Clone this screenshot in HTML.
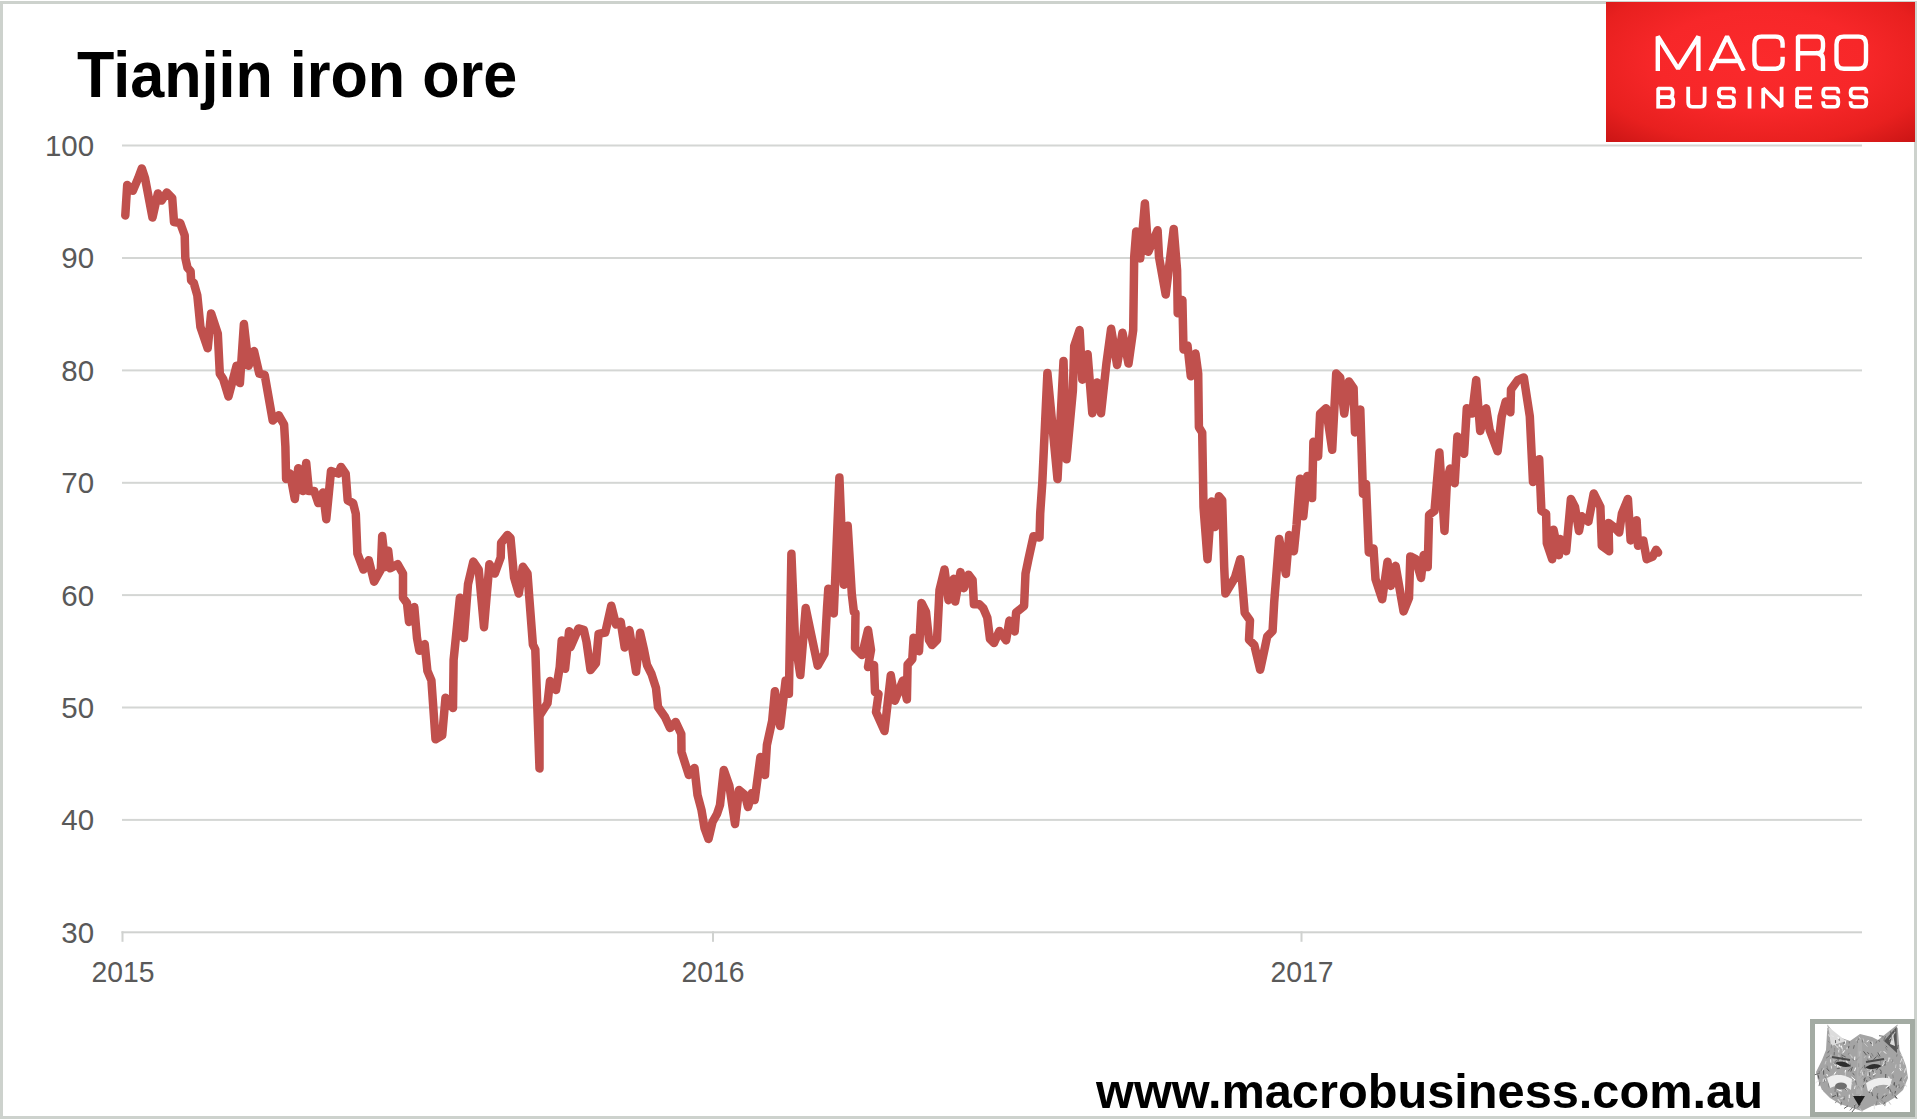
<!DOCTYPE html>
<html><head><meta charset="utf-8"><style>
html,body{margin:0;padding:0;background:#fff;}
body{width:1917px;height:1119px;position:relative;overflow:hidden;font-family:"Liberation Sans",sans-serif;}
.bd{position:absolute;background:#cdd2cd;}
svg{position:absolute;left:0;top:0;}
.title{position:absolute;left:76.8px;top:35.2px;font-weight:bold;font-size:64.4px;line-height:80px;color:#000;white-space:nowrap;transform:scaleX(0.949);transform-origin:0 0;}
.yl{position:absolute;left:1.2px;width:93px;text-align:right;font-size:29.5px;line-height:34px;color:#595959;transform:scaleX(1.0);transform-origin:93px 0;}
.xl{position:absolute;top:955.4px;width:100px;text-align:center;font-size:29.5px;line-height:34px;color:#595959;transform:scaleX(0.96);transform-origin:50px 0;}
.url{position:absolute;left:1096px;top:1060.7px;font-weight:bold;font-size:48.5px;line-height:60px;color:#000;white-space:nowrap;transform:scaleX(1.0045);transform-origin:0 0;}
.logo{position:absolute;left:1606px;top:2px;width:309px;height:139.5px;background:radial-gradient(ellipse 75% 80% at 50% 42%, #fb2a2c 0%, #f72729 45%, #e8201f 75%, #c81414 100%);}
.wolf{position:absolute;left:1810px;top:1019px;width:95px;height:88px;border:5px solid #a3aba3;background:#fff;}
</style></head><body>
<div class="bd" style="left:0;top:1px;width:3px;height:1118px"></div>
<div class="bd" style="left:1px;top:1px;width:1916px;height:3px"></div>
<div class="bd" style="left:1914px;top:1px;width:3px;height:1118px"></div>
<div class="bd" style="left:0;top:1116px;width:1917px;height:3px"></div>
<div class="logo"></div>
<svg width="1917" height="1119" viewBox="0 0 1917 1119"><rect x="122" y="144.5" width="1740" height="2" fill="#d4d6d4"/><rect x="122" y="257.0" width="1740" height="2" fill="#d4d6d4"/><rect x="122" y="369.4" width="1740" height="2" fill="#d4d6d4"/><rect x="122" y="481.8" width="1740" height="2" fill="#d4d6d4"/><rect x="122" y="594.1" width="1740" height="2" fill="#d4d6d4"/><rect x="122" y="706.5" width="1740" height="2" fill="#d4d6d4"/><rect x="122" y="818.9" width="1740" height="2" fill="#d4d6d4"/><rect x="121.5" y="931.3" width="1740.5" height="2" fill="#d0d2d0"/><rect x="121.5" y="931.3" width="2" height="10.5" fill="#d0d2d0"/><rect x="712.0" y="931.3" width="2" height="10.5" fill="#d0d2d0"/><rect x="1300.5" y="931.3" width="2" height="10.5" fill="#d0d2d0"/><polyline points="125.3,215.5 127.2,185.0 132.9,190.7 138.2,178.2 141.8,168.4 145.0,178.0 152.5,217.6 157.9,193.4 161.5,200.6 166.8,192.5 172.2,197.9 174.0,222.0 180.2,223.0 184.7,235.4 185.3,257.9 187.5,267.7 190.6,271.3 191.1,280.2 193.8,283.0 197.3,295.4 198.2,304.3 200.4,326.8 207.7,348.3 211.1,313.4 217.8,333.5 219.8,373.7 223.2,379.0 228.5,396.5 236.6,365.7 239.9,383.1 243.9,324.1 248.6,365.7 254.0,351.0 259.3,373.7 264.7,375.0 272.7,420.6 278.8,415.3 284.1,424.7 285.4,446.8 286.1,479.0 290.1,473.6 294.8,499.1 298.2,468.3 302.8,491.0 306.2,462.9 308.9,491.0 314.2,491.0 318.3,503.1 323.0,492.4 326.3,519.2 331.0,471.0 338.4,473.6 341.0,466.9 345.7,473.6 347.7,500.4 353.1,503.1 355.8,513.8 357.4,553.5 363.4,569.6 368.8,560.2 374.1,581.7 380.8,569.6 382.2,536.1 385.5,566.9 388.2,550.8 390.2,568.3 397.6,564.2 403.0,573.6 403.0,597.7 407.0,603.1 409.0,621.9 414.3,607.1 417.0,638.0 419.4,650.8 424.7,644.1 427.4,670.9 431.4,680.3 435.5,739.3 442.2,735.3 445.5,697.7 453.0,708.0 453.6,660.0 459.9,597.7 463.9,638.0 468.0,584.3 473.3,561.6 478.7,569.6 484.0,627.2 489.4,564.2 494.8,573.6 500.7,557.4 501.1,543.0 507.5,535.0 510.5,538.0 514.1,577.5 518.8,593.6 522.8,566.8 527.5,573.5 529.5,600.3 532.9,644.6 535.3,649.5 539.5,768.5 539.5,715.7 547.5,703.2 550.0,681.0 556.0,690.0 559.7,667.3 561.7,640.5 565.1,668.7 569.1,631.2 570.4,647.2 578.5,628.5 583.8,629.8 586.5,641.9 590.5,670.0 595.9,663.3 598.6,633.8 605.3,632.5 611.3,605.7 616.0,624.5 620.7,621.8 624.7,647.5 629.4,630.1 636.1,671.7 640.1,632.8 644.1,650.2 647.0,665.0 651.5,674.0 656.0,688.0 658.0,707.0 665.0,717.0 670.0,728.0 675.7,722.0 681.3,734.0 681.5,752.0 688.8,775.0 694.5,768.0 697.5,795.0 701.5,810.0 704.5,828.0 708.5,839.0 712.5,822.0 717.0,814.0 720.0,805.0 723.8,770.0 729.4,786.0 735.0,824.0 739.0,790.0 745.0,795.0 748.0,807.0 752.0,793.0 754.7,800.0 760.4,757.0 765.0,775.0 766.9,745.0 772.2,720.6 774.9,691.2 780.2,726.0 785.6,680.4 788.9,693.8 791.4,553.8 795.0,640.0 800.3,675.1 805.7,608.0 811.0,633.5 817.7,665.7 824.5,653.6 827.1,606.7 828.3,588.7 833.8,613.4 839.4,477.4 843.7,584.7 847.7,525.7 851.8,594.0 853.9,612.1 855.5,613.0 855.0,648.0 862.0,655.0 868.0,630.0 871.0,650.0 868.0,667.0 874.0,665.0 875.0,692.0 878.5,694.0 876.0,712.0 884.5,731.0 890.8,675.3 894.9,700.8 902.9,680.6 906.9,699.4 907.6,664.6 912.3,659.2 913.6,637.7 919.0,651.2 921.5,603.0 926.0,612.0 929.0,640.0 932.0,645.0 937.0,640.0 939.5,590.0 944.5,569.4 948.5,600.2 953.8,578.8 955.2,601.6 960.5,572.1 963.9,588.2 968.6,574.7 972.6,580.1 973.9,604.2 979.3,604.2 983.3,608.3 987.3,617.6 990.0,639.1 994.0,643.1 999.4,631.0 1006.1,640.4 1009.4,620.6 1014.7,631.4 1016.1,612.6 1024.1,605.9 1025.5,573.7 1028.2,560.3 1033.5,536.2 1039.5,537.5 1040.2,513.4 1042.3,482.6 1047.4,373.0 1057.5,479.0 1063.5,361.0 1066.5,459.3 1072.9,390.4 1074.2,346.2 1079.6,330.1 1082.3,379.7 1087.6,354.2 1092.3,413.2 1097.0,382.4 1101.0,413.2 1106.4,363.6 1111.1,328.8 1117.1,365.0 1122.5,332.8 1128.5,363.6 1133.2,330.1 1134.2,257.0 1136.2,231.6 1140.2,258.4 1144.9,203.4 1148.3,251.7 1157.6,230.2 1159.0,257.0 1165.7,294.6 1173.7,228.9 1177.1,270.4 1177.7,313.3 1182.4,299.9 1183.5,349.5 1187.5,345.5 1190.8,376.3 1195.5,353.5 1198.2,373.6 1198.9,427.2 1202.2,432.6 1203.5,506.9 1207.5,559.2 1211.5,501.6 1214.9,527.0 1218.9,496.2 1222.2,500.2 1224.2,567.2 1225.4,593.6 1235.0,577.5 1240.3,559.2 1244.7,612.9 1250.0,620.4 1249.0,639.7 1254.3,645.0 1260.2,669.7 1265.0,647.2 1267.2,636.5 1272.6,631.1 1274.2,602.2 1279.2,539.1 1285.9,573.9 1289.2,535.1 1293.9,551.2 1296.6,524.3 1300.0,478.8 1303.3,516.3 1307.3,476.1 1312.1,498.1 1313.4,441.8 1318.1,456.5 1320.1,413.6 1326.1,408.3 1332.2,449.8 1336.2,373.4 1340.2,377.4 1344.2,413.6 1348.9,381.4 1353.6,388.2 1355.0,432.4 1360.3,409.6 1363.0,494.0 1366.0,484.0 1368.8,552.4 1373.5,548.4 1375.5,579.2 1382.2,599.3 1387.5,561.8 1390.9,585.9 1395.6,565.8 1403.6,611.4 1409.0,598.0 1410.3,556.4 1415.7,559.1 1421.0,577.9 1423.7,555.1 1427.7,567.1 1429.1,514.9 1434.5,510.8 1439.4,452.5 1444.5,530.9 1447.0,480.0 1450.1,468.6 1454.7,483.3 1457.4,436.4 1464.1,453.8 1466.8,408.3 1472.2,413.6 1476.2,380.1 1480.2,431.0 1486.2,408.3 1489.6,429.7 1497.6,451.2 1501.7,416.3 1505.7,401.6 1510.4,412.3 1511.0,389.5 1517.7,380.1 1523.8,377.4 1529.8,416.3 1533.0,482.0 1539.2,459.2 1541.4,510.9 1546.1,513.6 1546.8,543.1 1552.2,559.2 1553.5,529.7 1558.9,555.2 1560.2,539.1 1566.2,551.2 1570.9,498.9 1575.0,506.9 1579.0,531.0 1581.7,516.3 1588.4,521.7 1593.7,493.5 1600.4,506.9 1601.8,545.8 1609.1,551.2 1608.5,523.0 1613.8,527.0 1619.2,532.4 1621.9,513.6 1627.9,498.9 1630.6,540.4 1636.6,520.3 1638.0,545.8 1643.3,540.4 1646.7,559.2 1652.7,556.5 1656.1,549.8 1658.1,552.5" fill="none" stroke="#c0504d" stroke-width="8.5" stroke-linejoin="round" stroke-linecap="round"/><defs><clipPath id="c1"><rect x="1600" y="34.2" width="300" height="36.7"/></clipPath><clipPath id="c2"><rect x="1600" y="86.4" width="300" height="22.4"/></clipPath></defs><g clip-path="url(#c1)" fill="none" stroke="#fff" stroke-width="4.4" stroke-linejoin="miter" stroke-miterlimit="1.3" stroke-linecap="square"><path d="M1657.80,68.70 L1657.80,36.50 L1678.10,68.70 L1698.40,36.50 L1698.40,68.70"/><path d="M1711.30,68.70 L1727.05,36.50 L1742.80,68.70 M1715.08,60.97 L1739.02,60.97"/><path d="M1782.60,45.52 L1782.60,43.58 Q1782.60,36.50 1775.55,36.50 L1761.45,36.50 Q1754.40,36.50 1754.40,44.55 L1754.40,60.65 Q1754.40,68.70 1761.45,68.70 L1775.55,68.70 Q1782.60,68.70 1782.60,61.62 L1782.60,59.04"/><path d="M1798.00,68.70 L1798.00,36.50 L1817.50,36.50 Q1823.00,36.50 1823.00,42.94 L1823.00,46.80 Q1823.00,53.24 1817.50,53.24 L1798.00,53.24 M1818.00,53.24 Q1823.00,53.89 1823.00,59.68 L1823.00,68.70"/><path d="M1843.88,36.50 L1858.62,36.50 Q1866.00,36.50 1866.00,44.55 L1866.00,60.65 Q1866.00,68.70 1858.62,68.70 L1843.88,68.70 Q1836.50,68.70 1836.50,60.65 L1836.50,44.55 Q1836.50,36.50 1843.88,36.50 Z"/></g><g clip-path="url(#c2)" fill="none" stroke="#fff" stroke-width="3.8" stroke-linejoin="miter" stroke-miterlimit="1.3" stroke-linecap="square"><path d="M1658.20,106.80 L1658.20,88.40 L1669.37,88.40 Q1672.55,88.40 1672.55,92.08 L1672.55,93.37 Q1672.55,97.05 1669.37,97.05 L1658.20,97.05 M1669.37,97.05 Q1673.30,97.05 1673.30,101.28 L1673.30,102.75 Q1673.30,106.80 1669.98,106.80 L1658.20,106.80"/><path d="M1688.20,88.40 L1688.20,102.20 Q1688.20,106.80 1692.30,106.80 L1700.50,106.80 Q1704.60,106.80 1704.60,102.20 L1704.60,88.40"/><path d="M1734.00,91.71 Q1734.00,88.40 1730.68,88.40 L1722.22,88.40 Q1718.90,88.40 1718.90,92.45 L1718.90,93.37 Q1718.90,97.23 1722.22,97.23 L1730.68,97.23 Q1734.00,97.23 1734.00,101.65 L1734.00,102.75 Q1734.00,106.80 1730.68,106.80 L1722.22,106.80 Q1718.90,106.80 1718.90,103.12"/><path d="M1749.55,88.40 L1749.55,106.80"/><path d="M1763.20,106.80 L1763.20,88.40 L1781.60,106.80 L1781.60,88.40"/><path d="M1810.20,88.40 L1797.10,88.40 L1797.10,106.80 L1810.20,106.80 M1797.10,97.23 L1809.15,97.23"/><path d="M1838.30,91.71 Q1838.30,88.40 1834.98,88.40 L1826.52,88.40 Q1823.20,88.40 1823.20,92.45 L1823.20,93.37 Q1823.20,97.23 1826.52,97.23 L1834.98,97.23 Q1838.30,97.23 1838.30,101.65 L1838.30,102.75 Q1838.30,106.80 1834.98,106.80 L1826.52,106.80 Q1823.20,106.80 1823.20,103.12"/><path d="M1866.30,91.71 Q1866.30,88.40 1862.85,88.40 L1854.05,88.40 Q1850.60,88.40 1850.60,92.45 L1850.60,93.37 Q1850.60,97.23 1854.05,97.23 L1862.85,97.23 Q1866.30,97.23 1866.30,101.65 L1866.30,102.75 Q1866.30,106.80 1862.85,106.80 L1854.05,106.80 Q1850.60,106.80 1850.60,103.12"/></g></svg>
<div class="title" id="title">Tianjin iron ore</div>
<div class="yl" style="top:128.98px">100</div><div class="yl" style="top:241.48px">90</div><div class="yl" style="top:353.88px">80</div><div class="yl" style="top:466.28px">70</div><div class="yl" style="top:578.58px">60</div><div class="yl" style="top:690.98px">50</div><div class="yl" style="top:803.38px">40</div><div class="yl" style="top:915.78px">30</div>
<div class="xl" style="left:72.8px">2015</div><div class="xl" style="left:663.4px">2016</div><div class="xl" style="left:1251.9px">2017</div>
<div class="url" id="url">www.macrobusiness.com.au</div>
<div class="wolf"></div>
<svg width="1917" height="1119" viewBox="0 0 1917 1119" style="position:absolute;left:0;top:0"><path d="M1827.5,1024.5 L1836,1036 L1850,1041 L1860,1034 L1872,1037 L1878,1040 L1897.5,1024.5 L1899.5,1050 L1903,1058 L1906,1066 L1908,1078 L1903,1090 L1894,1098 L1884,1104 L1872,1106 L1862,1111 L1852,1108 L1840,1104 L1830,1098 L1822,1090 L1818,1080 L1816,1072 L1822,1060 L1826,1050 Z" fill="#a4a4a4"/><path d="M1828.5,1027 L1831,1046 L1846,1041 Z" fill="#dcdcdc"/><path d="M1896.5,1027 L1884,1041 L1897,1053 Z" fill="#555"/><path d="M1893,1033 L1895,1046 L1890,1044 Z" fill="#ddd"/><g stroke-width="1" fill="none"><path d="M1865.4,1056.2 L1864.1,1057.8" stroke="#c8c8c8"/><path d="M1854.3,1045.2 L1853.4,1048.7" stroke="#6a6a6a"/><path d="M1892.7,1034.9 L1892.0,1039.7" stroke="#e6e6e6"/><path d="M1835.8,1073.0 L1834.0,1074.6" stroke="#c8c8c8"/><path d="M1828.6,1034.4 L1829.5,1036.7" stroke="#e6e6e6"/><path d="M1868.7,1040.5 L1866.7,1041.7" stroke="#ffffff"/><path d="M1834.4,1083.9 L1836.1,1087.2" stroke="#c8c8c8"/><path d="M1849.0,1045.9 L1848.4,1048.3" stroke="#5a5a5a"/><path d="M1837.9,1074.5 L1841.9,1076.0" stroke="#8a8a8a"/><path d="M1863.1,1038.5 L1863.7,1041.5" stroke="#c8c8c8"/><path d="M1854.6,1108.7 L1851.9,1112.1" stroke="#5a5a5a"/><path d="M1844.5,1085.2 L1843.2,1088.7" stroke="#e6e6e6"/><path d="M1883.7,1051.2 L1886.1,1053.6" stroke="#ffffff"/><path d="M1851.3,1082.8 L1852.1,1084.7" stroke="#c8c8c8"/><path d="M1848.4,1077.8 L1849.6,1080.4" stroke="#ffffff"/><path d="M1838.3,1058.4 L1838.2,1063.0" stroke="#6a6a6a"/><path d="M1830.6,1059.3 L1830.8,1062.6" stroke="#e6e6e6"/><path d="M1841.2,1060.5 L1840.2,1063.5" stroke="#c8c8c8"/><path d="M1831.6,1044.4 L1831.3,1048.2" stroke="#8a8a8a"/><path d="M1865.3,1077.7 L1863.4,1079.9" stroke="#7c7c7c"/><path d="M1879.9,1069.4 L1881.2,1071.1" stroke="#5a5a5a"/><path d="M1888.3,1101.0 L1890.8,1104.6" stroke="#c8c8c8"/><path d="M1852.4,1058.7 L1853.9,1060.8" stroke="#7c7c7c"/><path d="M1868.3,1071.2 L1867.9,1076.1" stroke="#e6e6e6"/><path d="M1838.7,1054.6 L1839.6,1059.0" stroke="#c8c8c8"/><path d="M1860.2,1051.4 L1859.6,1053.8" stroke="#ffffff"/><path d="M1847.2,1047.3 L1846.9,1049.3" stroke="#e6e6e6"/><path d="M1849.0,1084.7 L1850.5,1089.2" stroke="#5a5a5a"/><path d="M1896.2,1085.3 L1896.3,1087.8" stroke="#5a5a5a"/><path d="M1835.9,1071.7 L1834.0,1074.6" stroke="#ffffff"/><path d="M1836.0,1095.4 L1831.9,1097.1" stroke="#5a5a5a"/><path d="M1852.7,1094.7 L1853.0,1097.3" stroke="#c8c8c8"/><path d="M1839.4,1084.9 L1836.5,1088.8" stroke="#8a8a8a"/><path d="M1835.7,1044.0 L1836.2,1046.5" stroke="#7c7c7c"/><path d="M1900.5,1054.3 L1902.0,1056.1" stroke="#c8c8c8"/><path d="M1888.5,1090.0 L1891.2,1092.2" stroke="#7c7c7c"/><path d="M1855.8,1080.0 L1851.8,1081.3" stroke="#c8c8c8"/><path d="M1852.7,1107.3 L1849.9,1110.4" stroke="#7c7c7c"/><path d="M1870.5,1065.0 L1872.2,1068.3" stroke="#c8c8c8"/><path d="M1876.8,1054.8 L1879.1,1057.7" stroke="#7c7c7c"/><path d="M1885.5,1036.3 L1883.7,1040.5" stroke="#6a6a6a"/><path d="M1838.7,1049.8 L1838.8,1052.5" stroke="#e6e6e6"/><path d="M1845.6,1071.9 L1845.2,1076.1" stroke="#c8c8c8"/><path d="M1877.3,1095.7 L1877.9,1099.2" stroke="#5a5a5a"/><path d="M1901.3,1068.1 L1902.6,1069.7" stroke="#c8c8c8"/><path d="M1888.0,1077.6 L1888.6,1081.8" stroke="#7c7c7c"/><path d="M1831.2,1065.7 L1831.6,1068.6" stroke="#e6e6e6"/><path d="M1864.9,1066.5 L1867.9,1069.6" stroke="#e6e6e6"/><path d="M1872.0,1041.5 L1872.5,1045.9" stroke="#e6e6e6"/><path d="M1903.5,1085.5 L1900.5,1089.1" stroke="#8a8a8a"/><path d="M1834.0,1063.4 L1835.5,1065.9" stroke="#ffffff"/><path d="M1877.9,1093.0 L1876.5,1097.5" stroke="#7c7c7c"/><path d="M1903.3,1080.6 L1904.0,1082.9" stroke="#c8c8c8"/><path d="M1852.4,1066.9 L1850.8,1071.6" stroke="#5a5a5a"/><path d="M1836.0,1086.2 L1834.2,1088.8" stroke="#8a8a8a"/><path d="M1844.9,1087.5 L1845.0,1089.6" stroke="#e6e6e6"/><path d="M1858.1,1085.9 L1859.6,1088.4" stroke="#6a6a6a"/><path d="M1836.5,1101.1 L1835.4,1103.1" stroke="#8a8a8a"/><path d="M1854.7,1104.2 L1854.2,1106.6" stroke="#e6e6e6"/><path d="M1868.6,1085.6 L1869.6,1087.7" stroke="#6a6a6a"/><path d="M1890.2,1040.1 L1889.4,1042.0" stroke="#6a6a6a"/><path d="M1890.4,1031.4 L1891.7,1035.7" stroke="#6a6a6a"/><path d="M1854.3,1104.6 L1854.8,1108.7" stroke="#6a6a6a"/><path d="M1874.1,1070.7 L1874.4,1073.3" stroke="#c8c8c8"/><path d="M1862.0,1039.7 L1862.2,1042.4" stroke="#6a6a6a"/><path d="M1838.1,1063.3 L1837.7,1067.3" stroke="#ffffff"/><path d="M1855.6,1067.6 L1854.6,1070.9" stroke="#ffffff"/><path d="M1835.2,1044.2 L1836.5,1046.5" stroke="#ffffff"/><path d="M1883.5,1036.3 L1879.0,1035.7" stroke="#6a6a6a"/><path d="M1839.0,1038.4 L1839.3,1040.6" stroke="#5a5a5a"/><path d="M1850.8,1068.5 L1847.9,1071.4" stroke="#6a6a6a"/><path d="M1858.2,1037.9 L1858.7,1041.2" stroke="#8a8a8a"/><path d="M1849.2,1052.9 L1848.2,1054.8" stroke="#8a8a8a"/><path d="M1835.5,1040.1 L1835.6,1043.1" stroke="#6a6a6a"/><path d="M1859.6,1068.2 L1859.2,1070.2" stroke="#8a8a8a"/><path d="M1891.8,1036.7 L1889.4,1039.6" stroke="#c8c8c8"/><path d="M1836.9,1075.5 L1840.2,1077.7" stroke="#ffffff"/><path d="M1888.7,1076.5 L1889.5,1080.7" stroke="#ffffff"/><path d="M1883.1,1080.6 L1878.9,1082.7" stroke="#ffffff"/><path d="M1855.3,1085.7 L1854.3,1089.0" stroke="#e6e6e6"/><path d="M1885.8,1074.0 L1885.6,1078.1" stroke="#5a5a5a"/><path d="M1898.9,1084.1 L1899.3,1088.2" stroke="#7c7c7c"/><path d="M1850.4,1063.7 L1850.0,1067.3" stroke="#7c7c7c"/><path d="M1890.0,1089.8 L1889.9,1093.4" stroke="#e6e6e6"/><path d="M1823.6,1070.3 L1823.7,1074.7" stroke="#5a5a5a"/><path d="M1840.0,1088.2 L1841.6,1090.2" stroke="#ffffff"/><path d="M1876.1,1064.5 L1875.5,1069.2" stroke="#8a8a8a"/><path d="M1887.1,1078.3 L1887.9,1082.1" stroke="#6a6a6a"/><path d="M1871.4,1053.2 L1873.3,1056.5" stroke="#7c7c7c"/><path d="M1840.3,1083.1 L1843.0,1086.1" stroke="#ffffff"/><path d="M1861.0,1086.4 L1861.7,1090.6" stroke="#e6e6e6"/><path d="M1858.1,1096.2 L1855.2,1100.0" stroke="#c8c8c8"/><path d="M1885.3,1047.0 L1887.2,1050.4" stroke="#8a8a8a"/><path d="M1898.4,1085.9 L1896.8,1088.1" stroke="#c8c8c8"/><path d="M1904.3,1084.0 L1906.6,1086.2" stroke="#c8c8c8"/><path d="M1844.7,1097.9 L1843.7,1099.7" stroke="#5a5a5a"/><path d="M1846.8,1059.0 L1846.1,1060.9" stroke="#ffffff"/><path d="M1842.2,1056.8 L1842.7,1059.9" stroke="#5a5a5a"/><path d="M1870.4,1055.7 L1871.3,1057.7" stroke="#6a6a6a"/><path d="M1819.9,1082.3 L1819.0,1086.1" stroke="#7c7c7c"/><path d="M1838.4,1047.4 L1839.6,1050.3" stroke="#c8c8c8"/><path d="M1874.3,1104.4 L1874.4,1109.2" stroke="#e6e6e6"/><path d="M1902.7,1060.2 L1903.9,1064.6" stroke="#c8c8c8"/><path d="M1827.0,1065.6 L1827.6,1068.5" stroke="#8a8a8a"/><path d="M1839.0,1089.0 L1840.0,1091.6" stroke="#c8c8c8"/><path d="M1867.4,1058.7 L1868.6,1060.9" stroke="#7c7c7c"/><path d="M1822.1,1068.1 L1821.1,1071.3" stroke="#8a8a8a"/><path d="M1828.1,1040.9 L1829.6,1042.7" stroke="#8a8a8a"/><path d="M1867.3,1052.1 L1869.0,1054.0" stroke="#6a6a6a"/><path d="M1885.5,1060.3 L1883.1,1062.6" stroke="#e6e6e6"/><path d="M1834.7,1047.8 L1834.7,1051.5" stroke="#8a8a8a"/><path d="M1826.8,1068.3 L1829.4,1071.3" stroke="#5a5a5a"/><path d="M1894.8,1032.1 L1893.0,1035.7" stroke="#c8c8c8"/><path d="M1897.1,1025.9 L1897.8,1027.9" stroke="#ffffff"/><path d="M1886.8,1094.8 L1885.4,1096.5" stroke="#5a5a5a"/><path d="M1864.6,1065.2 L1865.1,1068.5" stroke="#5a5a5a"/><path d="M1864.1,1084.0 L1861.0,1086.5" stroke="#5a5a5a"/><path d="M1826.8,1074.1 L1827.5,1076.1" stroke="#ffffff"/><path d="M1838.7,1080.0 L1838.9,1082.2" stroke="#e6e6e6"/><path d="M1839.5,1093.6 L1840.1,1095.5" stroke="#e6e6e6"/><path d="M1843.3,1064.5 L1839.9,1067.7" stroke="#c8c8c8"/><path d="M1864.5,1072.1 L1864.9,1074.2" stroke="#c8c8c8"/><path d="M1881.2,1051.1 L1878.7,1054.1" stroke="#c8c8c8"/><path d="M1854.9,1056.6 L1854.6,1060.0" stroke="#ffffff"/><path d="M1846.8,1061.0 L1847.5,1065.3" stroke="#ffffff"/><path d="M1894.4,1029.9 L1895.7,1033.2" stroke="#7c7c7c"/><path d="M1844.3,1096.2 L1844.1,1100.4" stroke="#8a8a8a"/><path d="M1825.2,1078.9 L1823.7,1082.4" stroke="#7c7c7c"/><path d="M1860.6,1104.1 L1857.3,1107.6" stroke="#6a6a6a"/><path d="M1828.3,1028.6 L1827.7,1030.7" stroke="#c8c8c8"/><path d="M1857.3,1086.7 L1857.5,1088.9" stroke="#7c7c7c"/><path d="M1845.9,1040.3 L1844.7,1045.0" stroke="#ffffff"/><path d="M1859.0,1051.4 L1859.8,1056.3" stroke="#c8c8c8"/><path d="M1841.3,1054.9 L1845.7,1057.0" stroke="#6a6a6a"/><path d="M1867.7,1090.8 L1869.7,1092.9" stroke="#5a5a5a"/><path d="M1859.5,1056.8 L1856.4,1060.4" stroke="#7c7c7c"/><path d="M1845.4,1088.9 L1847.4,1090.7" stroke="#ffffff"/><path d="M1885.2,1103.1 L1884.8,1106.1" stroke="#8a8a8a"/><path d="M1843.0,1087.5 L1846.7,1090.5" stroke="#6a6a6a"/><path d="M1859.7,1108.2 L1862.5,1112.2" stroke="#c8c8c8"/><path d="M1891.6,1035.7 L1892.0,1040.5" stroke="#8a8a8a"/><path d="M1892.3,1092.0 L1892.3,1095.8" stroke="#8a8a8a"/><path d="M1896.0,1064.5 L1895.4,1068.0" stroke="#c8c8c8"/><path d="M1885.8,1045.8 L1887.3,1047.3" stroke="#6a6a6a"/><path d="M1860.3,1071.9 L1859.5,1074.1" stroke="#6a6a6a"/><path d="M1824.1,1067.9 L1822.0,1071.4" stroke="#c8c8c8"/><path d="M1831.3,1035.7 L1833.8,1036.6" stroke="#e6e6e6"/><path d="M1894.6,1082.5 L1893.9,1084.7" stroke="#5a5a5a"/><path d="M1842.6,1048.6 L1842.8,1051.4" stroke="#c8c8c8"/><path d="M1838.3,1045.6 L1837.2,1047.8" stroke="#e6e6e6"/><path d="M1838.7,1045.6 L1840.4,1047.2" stroke="#c8c8c8"/><path d="M1859.6,1096.1 L1860.3,1100.6" stroke="#8a8a8a"/><path d="M1906.5,1075.3 L1904.2,1079.3" stroke="#c8c8c8"/><path d="M1871.7,1092.2 L1872.7,1096.1" stroke="#6a6a6a"/><path d="M1824.9,1076.5 L1825.9,1079.4" stroke="#7c7c7c"/><path d="M1892.0,1060.0 L1892.9,1063.0" stroke="#e6e6e6"/><path d="M1844.3,1041.9 L1843.9,1044.0" stroke="#6a6a6a"/><path d="M1889.8,1082.4 L1891.4,1084.3" stroke="#e6e6e6"/><path d="M1880.4,1060.1 L1880.9,1064.9" stroke="#8a8a8a"/><path d="M1885.1,1101.8 L1883.5,1104.6" stroke="#6a6a6a"/><path d="M1849.2,1041.4 L1849.3,1043.4" stroke="#7c7c7c"/><path d="M1854.8,1096.2 L1856.1,1099.2" stroke="#8a8a8a"/><path d="M1858.3,1038.3 L1855.6,1041.2" stroke="#c8c8c8"/><path d="M1823.4,1078.8 L1823.1,1081.9" stroke="#e6e6e6"/><path d="M1831.1,1054.6 L1830.7,1056.8" stroke="#c8c8c8"/><path d="M1861.1,1094.8 L1859.6,1099.5" stroke="#7c7c7c"/><path d="M1843.4,1097.7 L1840.5,1098.5" stroke="#e6e6e6"/><path d="M1902.1,1058.1 L1900.4,1062.5" stroke="#e6e6e6"/><path d="M1879.7,1102.4 L1882.3,1105.2" stroke="#e6e6e6"/><path d="M1894.6,1097.0 L1896.6,1098.5" stroke="#7c7c7c"/><path d="M1829.7,1055.6 L1826.1,1058.2" stroke="#7c7c7c"/><path d="M1818.9,1073.5 L1814.8,1074.7" stroke="#6a6a6a"/><path d="M1877.8,1052.5 L1880.0,1056.5" stroke="#5a5a5a"/><path d="M1843.8,1061.0 L1842.2,1064.4" stroke="#c8c8c8"/><path d="M1851.6,1056.3 L1852.3,1058.2" stroke="#c8c8c8"/><path d="M1858.7,1063.3 L1858.8,1067.2" stroke="#5a5a5a"/><path d="M1858.1,1039.8 L1858.7,1042.1" stroke="#c8c8c8"/><path d="M1849.3,1094.6 L1849.2,1098.1" stroke="#ffffff"/><path d="M1818.8,1080.0 L1815.6,1082.9" stroke="#e6e6e6"/><path d="M1822.5,1090.2 L1820.3,1094.3" stroke="#ffffff"/><path d="M1883.8,1095.7 L1881.9,1098.6" stroke="#5a5a5a"/><path d="M1886.1,1038.0 L1881.4,1037.9" stroke="#8a8a8a"/><path d="M1900.1,1064.2 L1900.2,1067.6" stroke="#e6e6e6"/><path d="M1839.7,1068.5 L1836.8,1068.6" stroke="#6a6a6a"/><path d="M1833.7,1059.5 L1834.6,1062.3" stroke="#c8c8c8"/><path d="M1830.9,1093.1 L1831.7,1095.3" stroke="#e6e6e6"/><path d="M1864.0,1084.6 L1862.7,1088.0" stroke="#5a5a5a"/><path d="M1852.1,1094.2 L1852.8,1096.9" stroke="#8a8a8a"/><path d="M1869.3,1055.7 L1869.1,1058.2" stroke="#ffffff"/><path d="M1863.5,1051.3 L1866.5,1055.2" stroke="#5a5a5a"/><path d="M1870.1,1082.4 L1870.1,1084.5" stroke="#7c7c7c"/><path d="M1842.4,1079.1 L1842.2,1082.3" stroke="#8a8a8a"/><path d="M1836.4,1081.5 L1836.2,1084.5" stroke="#6a6a6a"/><path d="M1864.2,1071.0 L1864.2,1074.2" stroke="#8a8a8a"/><path d="M1870.4,1042.0 L1871.5,1044.1" stroke="#5a5a5a"/><path d="M1837.9,1037.1 L1839.0,1039.2" stroke="#ffffff"/><path d="M1828.6,1082.6 L1829.3,1087.4" stroke="#6a6a6a"/><path d="M1875.6,1073.5 L1872.9,1074.9" stroke="#ffffff"/><path d="M1869.4,1077.0 L1871.0,1078.9" stroke="#6a6a6a"/><path d="M1819.1,1070.8 L1819.4,1074.0" stroke="#7c7c7c"/><path d="M1824.9,1077.9 L1825.6,1081.1" stroke="#e6e6e6"/><path d="M1872.2,1068.6 L1873.4,1072.3" stroke="#5a5a5a"/><path d="M1872.6,1068.8 L1869.2,1072.3" stroke="#ffffff"/><path d="M1888.6,1087.0 L1887.9,1088.9" stroke="#5a5a5a"/><path d="M1856.0,1104.3 L1854.3,1106.1" stroke="#6a6a6a"/><path d="M1839.6,1080.7 L1838.6,1082.8" stroke="#ffffff"/><path d="M1874.8,1083.8 L1877.2,1088.0" stroke="#8a8a8a"/><path d="M1837.2,1089.5 L1841.8,1091.1" stroke="#ffffff"/><path d="M1851.5,1076.9 L1855.1,1080.0" stroke="#ffffff"/><path d="M1894.1,1071.2 L1891.6,1073.6" stroke="#e6e6e6"/><path d="M1880.6,1099.5 L1883.5,1101.8" stroke="#8a8a8a"/><path d="M1889.2,1058.5 L1887.8,1062.0" stroke="#e6e6e6"/><path d="M1828.3,1026.5 L1825.3,1029.0" stroke="#ffffff"/><path d="M1895.5,1091.0 L1894.9,1093.6" stroke="#5a5a5a"/><path d="M1865.2,1082.4 L1862.4,1085.5" stroke="#c8c8c8"/><path d="M1894.7,1095.5 L1897.2,1098.5" stroke="#5a5a5a"/><path d="M1885.6,1079.6 L1887.0,1083.8" stroke="#ffffff"/><path d="M1834.3,1052.1 L1834.1,1055.4" stroke="#6a6a6a"/><path d="M1848.0,1105.8 L1844.1,1108.5" stroke="#5a5a5a"/><path d="M1905.6,1068.3 L1904.3,1072.7" stroke="#e6e6e6"/><path d="M1885.1,1093.4 L1883.6,1095.2" stroke="#c8c8c8"/><path d="M1881.2,1071.3 L1880.9,1074.0" stroke="#5a5a5a"/><path d="M1892.8,1074.6 L1893.3,1078.1" stroke="#8a8a8a"/><path d="M1861.2,1094.1 L1859.7,1096.2" stroke="#c8c8c8"/><path d="M1863.4,1074.9 L1860.7,1078.8" stroke="#7c7c7c"/><path d="M1889.1,1085.3 L1885.6,1088.0" stroke="#ffffff"/><path d="M1885.1,1061.1 L1886.1,1063.9" stroke="#c8c8c8"/><path d="M1899.7,1068.1 L1901.1,1070.9" stroke="#ffffff"/><path d="M1837.0,1064.6 L1840.5,1066.9" stroke="#ffffff"/><path d="M1818.2,1075.2 L1818.9,1078.7" stroke="#5a5a5a"/><path d="M1894.3,1082.3 L1894.3,1085.6" stroke="#5a5a5a"/><path d="M1839.2,1044.3 L1840.3,1047.1" stroke="#ffffff"/><path d="M1898.2,1044.9 L1897.5,1049.0" stroke="#5a5a5a"/><path d="M1873.0,1087.7 L1870.8,1092.0" stroke="#ffffff"/><path d="M1845.7,1070.0 L1845.0,1072.4" stroke="#ffffff"/><path d="M1876.8,1041.2 L1875.8,1043.4" stroke="#7c7c7c"/><path d="M1889.7,1088.5 L1891.1,1092.2" stroke="#6a6a6a"/><path d="M1841.4,1101.9 L1840.9,1105.3" stroke="#6a6a6a"/><path d="M1852.5,1093.6 L1853.5,1097.4" stroke="#c8c8c8"/><path d="M1837.8,1099.1 L1840.3,1102.3" stroke="#e6e6e6"/><path d="M1885.4,1061.1 L1884.8,1065.7" stroke="#5a5a5a"/><path d="M1875.3,1075.4 L1873.1,1076.9" stroke="#7c7c7c"/><path d="M1875.3,1063.9 L1876.0,1066.1" stroke="#c8c8c8"/><path d="M1837.8,1059.2 L1834.9,1062.2" stroke="#7c7c7c"/><path d="M1838.5,1061.3 L1840.8,1063.5" stroke="#ffffff"/><path d="M1877.1,1100.8 L1876.1,1105.4" stroke="#8a8a8a"/><path d="M1888.1,1058.2 L1890.3,1058.1" stroke="#e6e6e6"/><path d="M1835.5,1087.0 L1835.0,1091.9" stroke="#7c7c7c"/><path d="M1869.0,1071.6 L1869.6,1075.5" stroke="#5a5a5a"/><path d="M1849.8,1054.2 L1852.5,1057.4" stroke="#c8c8c8"/><path d="M1834.7,1084.2 L1836.4,1085.9" stroke="#e6e6e6"/><path d="M1840.8,1059.2 L1839.6,1060.8" stroke="#c8c8c8"/><path d="M1901.1,1079.3 L1901.9,1081.5" stroke="#8a8a8a"/><path d="M1864.5,1043.3 L1867.4,1046.6" stroke="#c8c8c8"/><path d="M1858.4,1038.5 L1857.5,1042.8" stroke="#7c7c7c"/><path d="M1859.1,1073.5 L1859.4,1076.1" stroke="#7c7c7c"/><path d="M1848.2,1080.2 L1846.7,1083.3" stroke="#8a8a8a"/><path d="M1886.4,1081.2 L1890.1,1083.5" stroke="#c8c8c8"/><path d="M1848.3,1098.9 L1848.5,1101.6" stroke="#c8c8c8"/><path d="M1878.8,1066.4 L1876.4,1070.1" stroke="#5a5a5a"/><path d="M1841.4,1045.6 L1842.1,1048.8" stroke="#ffffff"/><path d="M1829.4,1050.7 L1827.5,1053.2" stroke="#6a6a6a"/><path d="M1888.7,1036.4 L1887.9,1038.2" stroke="#6a6a6a"/><path d="M1842.5,1077.5 L1845.1,1080.3" stroke="#5a5a5a"/><path d="M1837.0,1092.3 L1837.9,1096.9" stroke="#5a5a5a"/><path d="M1865.2,1077.6 L1864.1,1081.5" stroke="#5a5a5a"/><path d="M1866.6,1080.0 L1867.1,1082.6" stroke="#6a6a6a"/><path d="M1884.7,1062.6 L1881.9,1066.2" stroke="#e6e6e6"/><path d="M1826.1,1060.9 L1825.0,1064.4" stroke="#c8c8c8"/><path d="M1858.9,1036.7 L1860.9,1039.6" stroke="#c8c8c8"/><path d="M1830.5,1076.8 L1830.6,1079.7" stroke="#ffffff"/><path d="M1867.9,1082.5 L1869.4,1086.8" stroke="#8a8a8a"/><path d="M1878.5,1039.9 L1879.6,1041.6" stroke="#6a6a6a"/><path d="M1863.0,1066.7 L1860.1,1070.3" stroke="#6a6a6a"/><path d="M1835.1,1060.6 L1834.3,1064.5" stroke="#8a8a8a"/><path d="M1859.6,1070.2 L1858.8,1074.5" stroke="#7c7c7c"/><path d="M1841.7,1054.1 L1841.7,1057.0" stroke="#8a8a8a"/><path d="M1892.8,1059.5 L1892.1,1063.0" stroke="#8a8a8a"/><path d="M1897.1,1054.3 L1896.6,1056.6" stroke="#7c7c7c"/><path d="M1844.8,1050.3 L1842.5,1053.3" stroke="#ffffff"/><path d="M1852.5,1072.8 L1854.4,1075.3" stroke="#6a6a6a"/><path d="M1901.6,1077.6 L1899.9,1081.2" stroke="#5a5a5a"/><path d="M1862.1,1071.8 L1863.0,1075.7" stroke="#ffffff"/><path d="M1871.1,1083.9 L1870.4,1086.5" stroke="#ffffff"/><path d="M1874.6,1079.0 L1872.7,1083.3" stroke="#c8c8c8"/><path d="M1876.6,1056.5 L1873.5,1059.6" stroke="#5a5a5a"/><path d="M1844.1,1086.5 L1843.6,1088.5" stroke="#6a6a6a"/><path d="M1855.5,1080.5 L1856.9,1085.1" stroke="#6a6a6a"/><path d="M1861.8,1069.9 L1860.3,1072.9" stroke="#ffffff"/></g><path d="M1827,1078 Q1838,1071 1852,1079 L1851,1090 Q1840,1082 1830,1088 Z" fill="#eee"/><path d="M1866,1083 Q1878,1075 1892,1079 L1890,1086 Q1878,1082 1868,1092 Z" fill="#eee"/><path d="M1835,1063 Q1843,1059 1851,1066 Q1843,1069 1835,1063 Z" fill="#2e2e2e"/><path d="M1865,1068 Q1873,1061 1882,1066 Q1874,1071 1865,1068 Z" fill="#2e2e2e"/><path d="M1832,1057 L1850,1060" stroke="#4a4a4a" stroke-width="2" fill="none"/><path d="M1866,1062 L1884,1059" stroke="#4a4a4a" stroke-width="2" fill="none"/><path d="M1858,1040 L1862,1040 L1863,1094 L1856,1094 Z" fill="#b0b0b0" opacity="0.7"/><path d="M1853,1096 L1865,1096 L1859,1106 Z" fill="#1e1e1e"/><ellipse cx="1841" cy="1086" rx="6" ry="3.5" fill="#6e6e6e"/></svg>
</body></html>
